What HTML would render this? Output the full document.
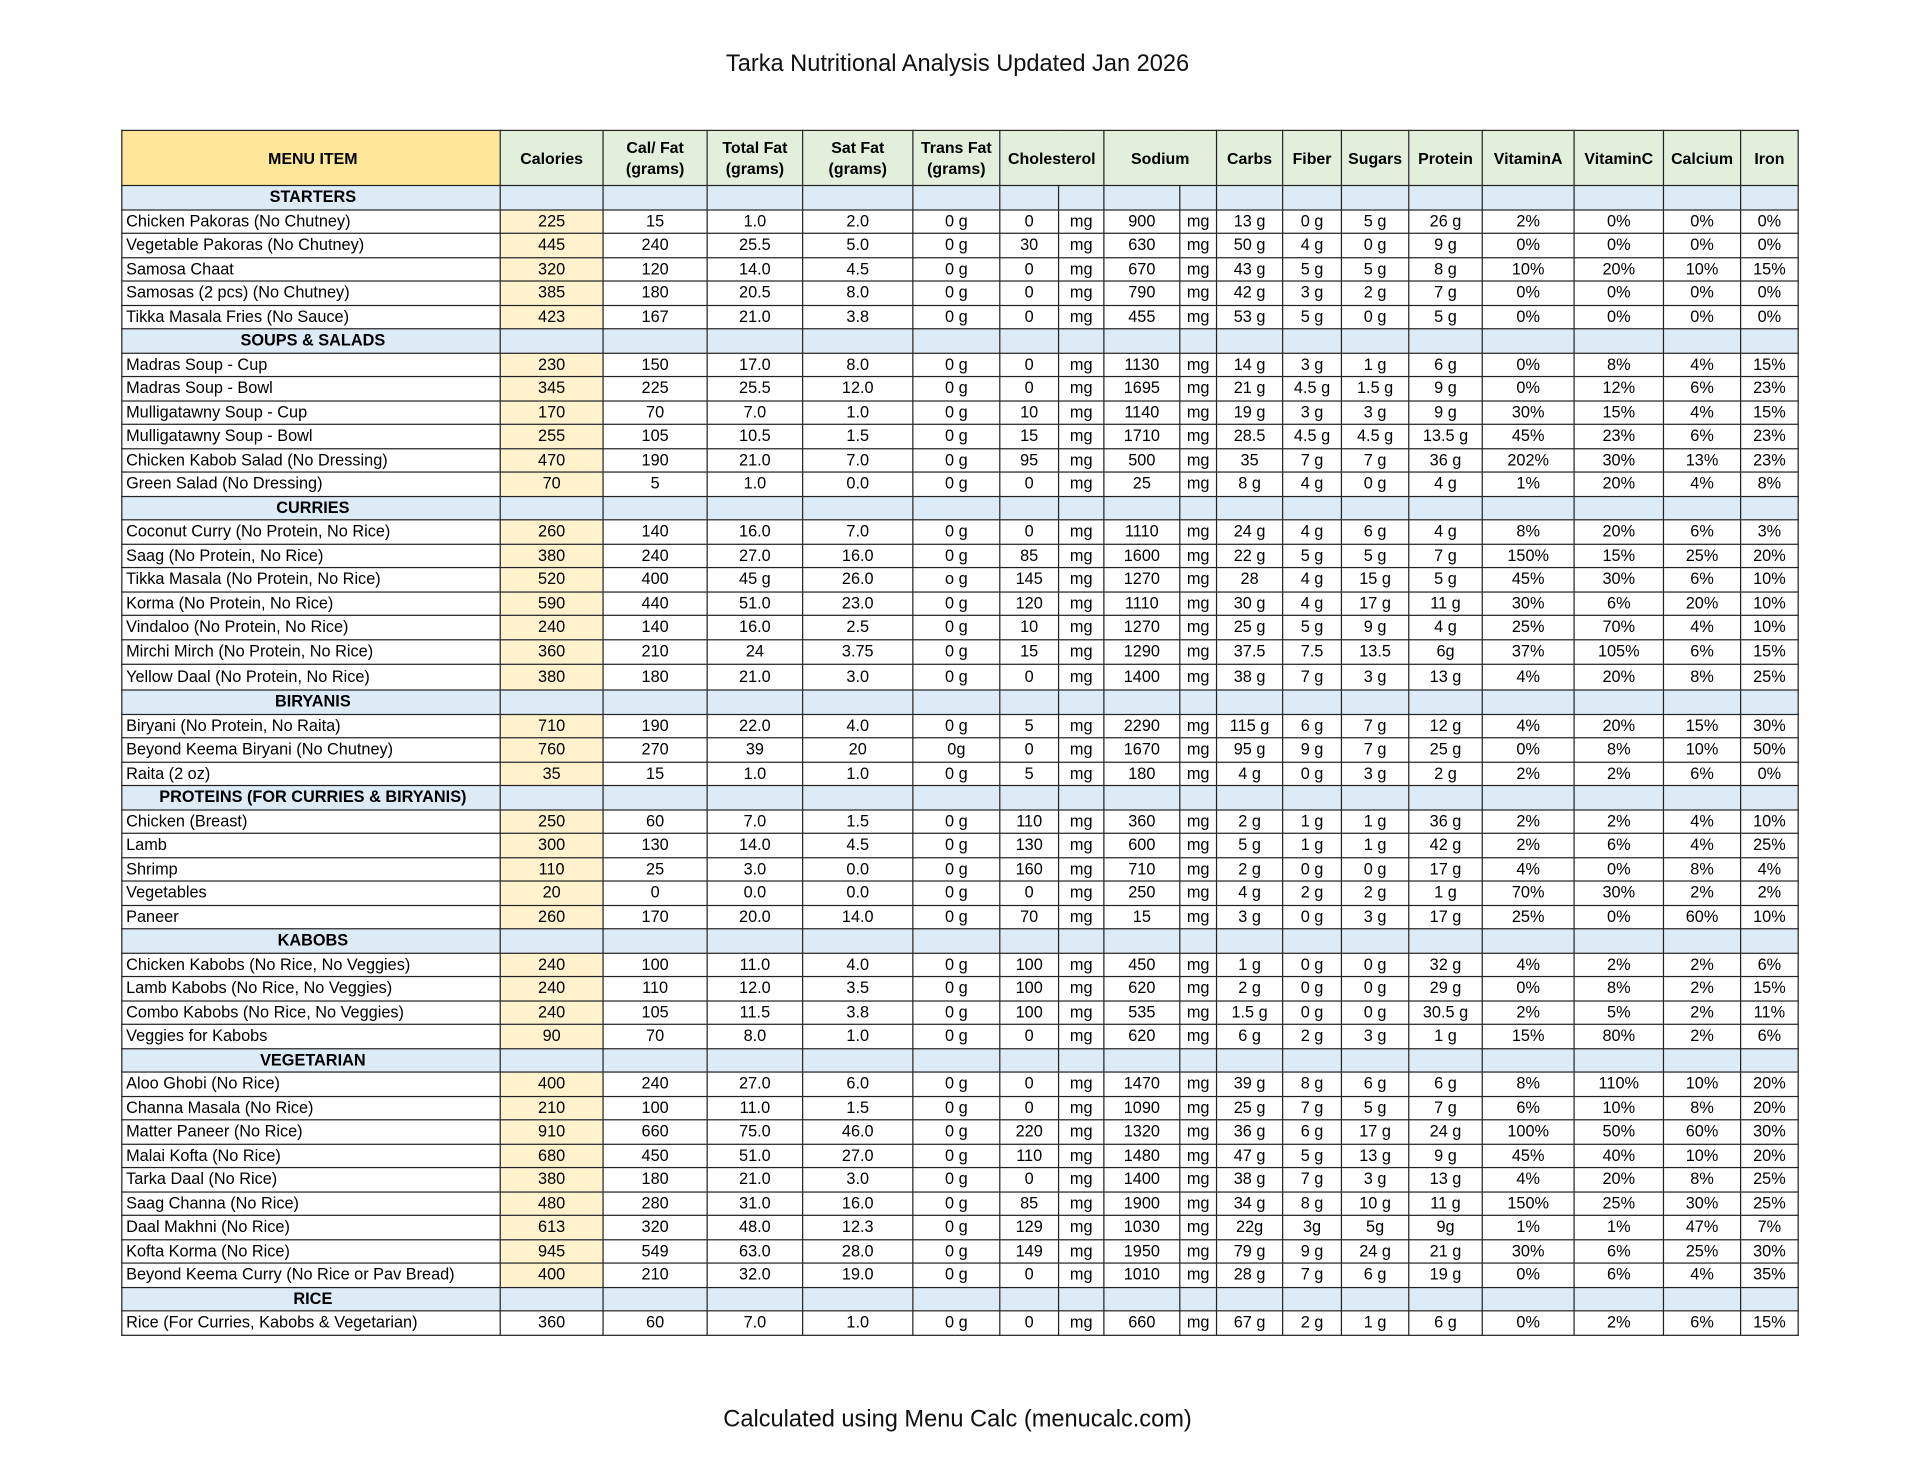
<!DOCTYPE html>
<html><head><meta charset="utf-8"><style>
html,body{margin:0;padding:0;background:#fff;}
body{width:1920px;height:1484px;overflow:hidden;position:relative;}
#w{position:absolute;left:0;top:0;width:1568px;height:1212px;transform:scale(1.22449);transform-origin:0 0;}
.t{position:absolute;left:0;width:1564px;text-align:center;font-family:"Liberation Sans",Arial,sans-serif;font-size:19.3px;color:#111;}
table{position:absolute;left:99px;top:106px;border-collapse:collapse;table-layout:fixed;font-family:"Liberation Sans",Arial,sans-serif;font-size:13.3px;color:#000;}
td{border:1px solid #222;padding:0;text-align:center;height:18.5px;line-height:14px;white-space:nowrap;overflow:hidden;}
td:first-child{text-align:left;padding-left:3px;}
tr.h td{background:#E2EFDA;font-weight:bold;height:44px;font-size:13px;line-height:17px;}
tr.h td:first-child{background:#FFE699;text-align:center;}
tr.s td{background:#DDEBF7;font-weight:bold;}
tr.s td:first-child{text-align:center;}
tr.d td:nth-child(2){background:#FFF2CC;}
tr.r td:nth-child(2){background:#fff;}
tr.tall td{height:19.8px;}
</style></head><body><div id="w">
<div class="t" style="top:42px;">Tarka Nutritional Analysis Updated Jan 2026</div>
<table>
<colgroup><col style="width:309px"><col style="width:84px"><col style="width:85px"><col style="width:78px"><col style="width:90px"><col style="width:71px"><col style="width:48px"><col style="width:37px"><col style="width:62px"><col style="width:30px"><col style="width:54px"><col style="width:48px"><col style="width:55px"><col style="width:60px"><col style="width:75px"><col style="width:73px"><col style="width:63px"><col style="width:47px"></colgroup>
<tr class="h"><td>MENU ITEM</td><td>Calories</td><td>Cal/ Fat<br>(grams)</td><td>Total Fat<br>(grams)</td><td>Sat Fat<br>(grams)</td><td>Trans Fat<br>(grams)</td><td colspan="2">Cholesterol</td><td colspan="2">Sodium</td><td>Carbs</td><td>Fiber</td><td>Sugars</td><td>Protein</td><td>VitaminA</td><td>VitaminC</td><td>Calcium</td><td>Iron</td></tr>
<tr class="s"><td>STARTERS</td><td></td><td></td><td></td><td></td><td></td><td></td><td></td><td></td><td></td><td></td><td></td><td></td><td></td><td></td><td></td><td></td><td></td></tr>
<tr class="d"><td>Chicken Pakoras (No Chutney)</td><td>225</td><td>15</td><td>1.0</td><td>2.0</td><td>0 g</td><td>0</td><td>mg</td><td>900</td><td>mg</td><td>13 g</td><td>0 g</td><td>5 g</td><td>26 g</td><td>2%</td><td>0%</td><td>0%</td><td>0%</td></tr>
<tr class="d"><td>Vegetable Pakoras (No Chutney)</td><td>445</td><td>240</td><td>25.5</td><td>5.0</td><td>0 g</td><td>30</td><td>mg</td><td>630</td><td>mg</td><td>50 g</td><td>4 g</td><td>0 g</td><td>9 g</td><td>0%</td><td>0%</td><td>0%</td><td>0%</td></tr>
<tr class="d"><td>Samosa Chaat</td><td>320</td><td>120</td><td>14.0</td><td>4.5</td><td>0 g</td><td>0</td><td>mg</td><td>670</td><td>mg</td><td>43 g</td><td>5 g</td><td>5 g</td><td>8 g</td><td>10%</td><td>20%</td><td>10%</td><td>15%</td></tr>
<tr class="d"><td>Samosas (2 pcs) (No Chutney)</td><td>385</td><td>180</td><td>20.5</td><td>8.0</td><td>0 g</td><td>0</td><td>mg</td><td>790</td><td>mg</td><td>42 g</td><td>3 g</td><td>2 g</td><td>7 g</td><td>0%</td><td>0%</td><td>0%</td><td>0%</td></tr>
<tr class="d"><td>Tikka Masala Fries (No Sauce)</td><td>423</td><td>167</td><td>21.0</td><td>3.8</td><td>0 g</td><td>0</td><td>mg</td><td>455</td><td>mg</td><td>53 g</td><td>5 g</td><td>0 g</td><td>5 g</td><td>0%</td><td>0%</td><td>0%</td><td>0%</td></tr>
<tr class="s"><td>SOUPS &amp; SALADS</td><td></td><td></td><td></td><td></td><td></td><td></td><td></td><td></td><td></td><td></td><td></td><td></td><td></td><td></td><td></td><td></td><td></td></tr>
<tr class="d"><td>Madras Soup - Cup</td><td>230</td><td>150</td><td>17.0</td><td>8.0</td><td>0 g</td><td>0</td><td>mg</td><td>1130</td><td>mg</td><td>14 g</td><td>3 g</td><td>1 g</td><td>6 g</td><td>0%</td><td>8%</td><td>4%</td><td>15%</td></tr>
<tr class="d"><td>Madras Soup - Bowl</td><td>345</td><td>225</td><td>25.5</td><td>12.0</td><td>0 g</td><td>0</td><td>mg</td><td>1695</td><td>mg</td><td>21 g</td><td>4.5 g</td><td>1.5 g</td><td>9 g</td><td>0%</td><td>12%</td><td>6%</td><td>23%</td></tr>
<tr class="d"><td>Mulligatawny Soup - Cup</td><td>170</td><td>70</td><td>7.0</td><td>1.0</td><td>0 g</td><td>10</td><td>mg</td><td>1140</td><td>mg</td><td>19 g</td><td>3 g</td><td>3 g</td><td>9 g</td><td>30%</td><td>15%</td><td>4%</td><td>15%</td></tr>
<tr class="d"><td>Mulligatawny Soup - Bowl</td><td>255</td><td>105</td><td>10.5</td><td>1.5</td><td>0 g</td><td>15</td><td>mg</td><td>1710</td><td>mg</td><td>28.5</td><td>4.5 g</td><td>4.5 g</td><td>13.5 g</td><td>45%</td><td>23%</td><td>6%</td><td>23%</td></tr>
<tr class="d"><td>Chicken Kabob Salad (No Dressing)</td><td>470</td><td>190</td><td>21.0</td><td>7.0</td><td>0 g</td><td>95</td><td>mg</td><td>500</td><td>mg</td><td>35</td><td>7 g</td><td>7 g</td><td>36 g</td><td>202%</td><td>30%</td><td>13%</td><td>23%</td></tr>
<tr class="d"><td>Green Salad (No Dressing)</td><td>70</td><td>5</td><td>1.0</td><td>0.0</td><td>0 g</td><td>0</td><td>mg</td><td>25</td><td>mg</td><td>8 g</td><td>4 g</td><td>0 g</td><td>4 g</td><td>1%</td><td>20%</td><td>4%</td><td>8%</td></tr>
<tr class="s"><td>CURRIES</td><td></td><td></td><td></td><td></td><td></td><td></td><td></td><td></td><td></td><td></td><td></td><td></td><td></td><td></td><td></td><td></td><td></td></tr>
<tr class="d"><td>Coconut Curry (No Protein, No Rice)</td><td>260</td><td>140</td><td>16.0</td><td>7.0</td><td>0 g</td><td>0</td><td>mg</td><td>1110</td><td>mg</td><td>24 g</td><td>4 g</td><td>6 g</td><td>4 g</td><td>8%</td><td>20%</td><td>6%</td><td>3%</td></tr>
<tr class="d"><td>Saag (No Protein, No Rice)</td><td>380</td><td>240</td><td>27.0</td><td>16.0</td><td>0 g</td><td>85</td><td>mg</td><td>1600</td><td>mg</td><td>22 g</td><td>5 g</td><td>5 g</td><td>7 g</td><td>150%</td><td>15%</td><td>25%</td><td>20%</td></tr>
<tr class="d"><td>Tikka Masala (No Protein, No Rice)</td><td>520</td><td>400</td><td>45 g</td><td>26.0</td><td>o g</td><td>145</td><td>mg</td><td>1270</td><td>mg</td><td>28</td><td>4 g</td><td>15 g</td><td>5 g</td><td>45%</td><td>30%</td><td>6%</td><td>10%</td></tr>
<tr class="d"><td>Korma (No Protein, No Rice)</td><td>590</td><td>440</td><td>51.0</td><td>23.0</td><td>0 g</td><td>120</td><td>mg</td><td>1110</td><td>mg</td><td>30 g</td><td>4 g</td><td>17 g</td><td>11 g</td><td>30%</td><td>6%</td><td>20%</td><td>10%</td></tr>
<tr class="d"><td>Vindaloo (No Protein, No Rice)</td><td>240</td><td>140</td><td>16.0</td><td>2.5</td><td>0 g</td><td>10</td><td>mg</td><td>1270</td><td>mg</td><td>25 g</td><td>5 g</td><td>9 g</td><td>4 g</td><td>25%</td><td>70%</td><td>4%</td><td>10%</td></tr>
<tr class="d tall"><td>Mirchi Mirch (No Protein, No Rice)</td><td>360</td><td>210</td><td>24</td><td>3.75</td><td>0 g</td><td>15</td><td>mg</td><td>1290</td><td>mg</td><td>37.5</td><td>7.5</td><td>13.5</td><td>6g</td><td>37%</td><td>105%</td><td>6%</td><td>15%</td></tr>
<tr class="d tall"><td>Yellow Daal (No Protein, No Rice)</td><td>380</td><td>180</td><td>21.0</td><td>3.0</td><td>0 g</td><td>0</td><td>mg</td><td>1400</td><td>mg</td><td>38 g</td><td>7 g</td><td>3 g</td><td>13 g</td><td>4%</td><td>20%</td><td>8%</td><td>25%</td></tr>
<tr class="s"><td>BIRYANIS</td><td></td><td></td><td></td><td></td><td></td><td></td><td></td><td></td><td></td><td></td><td></td><td></td><td></td><td></td><td></td><td></td><td></td></tr>
<tr class="d"><td>Biryani (No Protein, No Raita)</td><td>710</td><td>190</td><td>22.0</td><td>4.0</td><td>0 g</td><td>5</td><td>mg</td><td>2290</td><td>mg</td><td>115 g</td><td>6 g</td><td>7 g</td><td>12 g</td><td>4%</td><td>20%</td><td>15%</td><td>30%</td></tr>
<tr class="d"><td>Beyond Keema Biryani (No Chutney)</td><td>760</td><td>270</td><td>39</td><td>20</td><td>0g</td><td>0</td><td>mg</td><td>1670</td><td>mg</td><td>95 g</td><td>9 g</td><td>7 g</td><td>25 g</td><td>0%</td><td>8%</td><td>10%</td><td>50%</td></tr>
<tr class="d"><td>Raita (2 oz)</td><td>35</td><td>15</td><td>1.0</td><td>1.0</td><td>0 g</td><td>5</td><td>mg</td><td>180</td><td>mg</td><td>4 g</td><td>0 g</td><td>3 g</td><td>2 g</td><td>2%</td><td>2%</td><td>6%</td><td>0%</td></tr>
<tr class="s"><td>PROTEINS (FOR CURRIES &amp; BIRYANIS)</td><td></td><td></td><td></td><td></td><td></td><td></td><td></td><td></td><td></td><td></td><td></td><td></td><td></td><td></td><td></td><td></td><td></td></tr>
<tr class="d"><td>Chicken (Breast)</td><td>250</td><td>60</td><td>7.0</td><td>1.5</td><td>0 g</td><td>110</td><td>mg</td><td>360</td><td>mg</td><td>2 g</td><td>1 g</td><td>1 g</td><td>36 g</td><td>2%</td><td>2%</td><td>4%</td><td>10%</td></tr>
<tr class="d"><td>Lamb</td><td>300</td><td>130</td><td>14.0</td><td>4.5</td><td>0 g</td><td>130</td><td>mg</td><td>600</td><td>mg</td><td>5 g</td><td>1 g</td><td>1 g</td><td>42 g</td><td>2%</td><td>6%</td><td>4%</td><td>25%</td></tr>
<tr class="d"><td>Shrimp</td><td>110</td><td>25</td><td>3.0</td><td>0.0</td><td>0 g</td><td>160</td><td>mg</td><td>710</td><td>mg</td><td>2 g</td><td>0 g</td><td>0 g</td><td>17 g</td><td>4%</td><td>0%</td><td>8%</td><td>4%</td></tr>
<tr class="d"><td>Vegetables</td><td>20</td><td>0</td><td>0.0</td><td>0.0</td><td>0 g</td><td>0</td><td>mg</td><td>250</td><td>mg</td><td>4 g</td><td>2 g</td><td>2 g</td><td>1 g</td><td>70%</td><td>30%</td><td>2%</td><td>2%</td></tr>
<tr class="d"><td>Paneer</td><td>260</td><td>170</td><td>20.0</td><td>14.0</td><td>0 g</td><td>70</td><td>mg</td><td>15</td><td>mg</td><td>3 g</td><td>0 g</td><td>3 g</td><td>17 g</td><td>25%</td><td>0%</td><td>60%</td><td>10%</td></tr>
<tr class="s"><td>KABOBS</td><td></td><td></td><td></td><td></td><td></td><td></td><td></td><td></td><td></td><td></td><td></td><td></td><td></td><td></td><td></td><td></td><td></td></tr>
<tr class="d"><td>Chicken Kabobs (No Rice, No Veggies)</td><td>240</td><td>100</td><td>11.0</td><td>4.0</td><td>0 g</td><td>100</td><td>mg</td><td>450</td><td>mg</td><td>1 g</td><td>0 g</td><td>0 g</td><td>32 g</td><td>4%</td><td>2%</td><td>2%</td><td>6%</td></tr>
<tr class="d"><td>Lamb Kabobs (No Rice, No Veggies)</td><td>240</td><td>110</td><td>12.0</td><td>3.5</td><td>0 g</td><td>100</td><td>mg</td><td>620</td><td>mg</td><td>2 g</td><td>0 g</td><td>0 g</td><td>29 g</td><td>0%</td><td>8%</td><td>2%</td><td>15%</td></tr>
<tr class="d"><td>Combo Kabobs (No Rice, No Veggies)</td><td>240</td><td>105</td><td>11.5</td><td>3.8</td><td>0 g</td><td>100</td><td>mg</td><td>535</td><td>mg</td><td>1.5 g</td><td>0 g</td><td>0 g</td><td>30.5 g</td><td>2%</td><td>5%</td><td>2%</td><td>11%</td></tr>
<tr class="d"><td>Veggies for Kabobs</td><td>90</td><td>70</td><td>8.0</td><td>1.0</td><td>0 g</td><td>0</td><td>mg</td><td>620</td><td>mg</td><td>6 g</td><td>2 g</td><td>3 g</td><td>1 g</td><td>15%</td><td>80%</td><td>2%</td><td>6%</td></tr>
<tr class="s"><td>VEGETARIAN</td><td></td><td></td><td></td><td></td><td></td><td></td><td></td><td></td><td></td><td></td><td></td><td></td><td></td><td></td><td></td><td></td><td></td></tr>
<tr class="d"><td>Aloo Ghobi (No Rice)</td><td>400</td><td>240</td><td>27.0</td><td>6.0</td><td>0 g</td><td>0</td><td>mg</td><td>1470</td><td>mg</td><td>39 g</td><td>8 g</td><td>6 g</td><td>6 g</td><td>8%</td><td>110%</td><td>10%</td><td>20%</td></tr>
<tr class="d"><td>Channa Masala (No Rice)</td><td>210</td><td>100</td><td>11.0</td><td>1.5</td><td>0 g</td><td>0</td><td>mg</td><td>1090</td><td>mg</td><td>25 g</td><td>7 g</td><td>5 g</td><td>7 g</td><td>6%</td><td>10%</td><td>8%</td><td>20%</td></tr>
<tr class="d"><td>Matter Paneer (No Rice)</td><td>910</td><td>660</td><td>75.0</td><td>46.0</td><td>0 g</td><td>220</td><td>mg</td><td>1320</td><td>mg</td><td>36 g</td><td>6 g</td><td>17 g</td><td>24 g</td><td>100%</td><td>50%</td><td>60%</td><td>30%</td></tr>
<tr class="d"><td>Malai Kofta (No Rice)</td><td>680</td><td>450</td><td>51.0</td><td>27.0</td><td>0 g</td><td>110</td><td>mg</td><td>1480</td><td>mg</td><td>47 g</td><td>5 g</td><td>13 g</td><td>9 g</td><td>45%</td><td>40%</td><td>10%</td><td>20%</td></tr>
<tr class="d"><td>Tarka Daal (No Rice)</td><td>380</td><td>180</td><td>21.0</td><td>3.0</td><td>0 g</td><td>0</td><td>mg</td><td>1400</td><td>mg</td><td>38 g</td><td>7 g</td><td>3 g</td><td>13 g</td><td>4%</td><td>20%</td><td>8%</td><td>25%</td></tr>
<tr class="d"><td>Saag Channa (No Rice)</td><td>480</td><td>280</td><td>31.0</td><td>16.0</td><td>0 g</td><td>85</td><td>mg</td><td>1900</td><td>mg</td><td>34 g</td><td>8 g</td><td>10 g</td><td>11 g</td><td>150%</td><td>25%</td><td>30%</td><td>25%</td></tr>
<tr class="d"><td>Daal Makhni (No Rice)</td><td>613</td><td>320</td><td>48.0</td><td>12.3</td><td>0 g</td><td>129</td><td>mg</td><td>1030</td><td>mg</td><td>22g</td><td>3g</td><td>5g</td><td>9g</td><td>1%</td><td>1%</td><td>47%</td><td>7%</td></tr>
<tr class="d"><td>Kofta Korma (No Rice)</td><td>945</td><td>549</td><td>63.0</td><td>28.0</td><td>0 g</td><td>149</td><td>mg</td><td>1950</td><td>mg</td><td>79 g</td><td>9 g</td><td>24 g</td><td>21 g</td><td>30%</td><td>6%</td><td>25%</td><td>30%</td></tr>
<tr class="d"><td>Beyond Keema Curry (No Rice or Pav Bread)</td><td>400</td><td>210</td><td>32.0</td><td>19.0</td><td>0 g</td><td>0</td><td>mg</td><td>1010</td><td>mg</td><td>28 g</td><td>7 g</td><td>6 g</td><td>19 g</td><td>0%</td><td>6%</td><td>4%</td><td>35%</td></tr>
<tr class="s"><td>RICE</td><td></td><td></td><td></td><td></td><td></td><td></td><td></td><td></td><td></td><td></td><td></td><td></td><td></td><td></td><td></td><td></td><td></td></tr>
<tr class="d r"><td>Rice (For Curries, Kabobs &amp; Vegetarian)</td><td>360</td><td>60</td><td>7.0</td><td>1.0</td><td>0 g</td><td>0</td><td>mg</td><td>660</td><td>mg</td><td>67 g</td><td>2 g</td><td>1 g</td><td>6 g</td><td>0%</td><td>2%</td><td>6%</td><td>15%</td></tr>
</table>
<div class="t" style="top:1149px;">Calculated using Menu Calc (menucalc.com)</div>
</div></body></html>
